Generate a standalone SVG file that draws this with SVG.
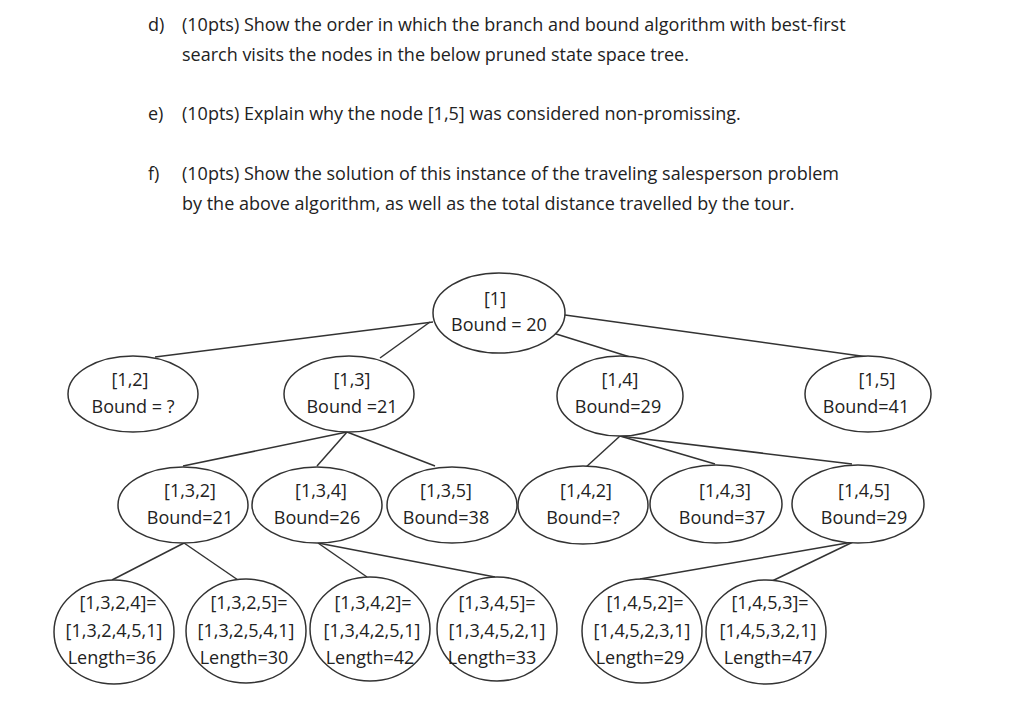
<svg xmlns="http://www.w3.org/2000/svg" width="1024" height="704" viewBox="0 0 1024 704">
<style>
text{font-family:"Open Sans","Liberation Sans",sans-serif;font-size:18px;fill:#222}
.n text{text-anchor:middle}
ellipse{fill:#fff;stroke:#333;stroke-width:1.5}
#edges line{stroke:#333;stroke-width:1.5}
</style>
<rect width="1024" height="704" fill="#fff"/>
<g id="questions">
<text x="148" y="31">d)</text><text x="182" y="31">(10pts) Show the order in which the branch and bound algorithm with best-first</text>
<text x="182" y="61">search visits the nodes in the below pruned state space tree.</text>
<text x="148" y="120">e)</text><text x="182" y="120">(10pts) Explain why the node [1,5] was considered non-promissing.</text>
<text x="148" y="180">f)</text><text x="182" y="180">(10pts) Show the solution of this instance of the traveling salesperson problem</text>
<text x="182" y="210">by the above algorithm, as well as the total distance travelled by the tour.</text>
</g>
<g id="edges">
<line x1="433" y1="322" x2="155" y2="357"/>
<line x1="430" y1="322" x2="380" y2="358"/>
<line x1="553" y1="333" x2="630" y2="357"/>
<line x1="565" y1="315" x2="868" y2="357"/>
<line x1="347" y1="432" x2="183" y2="466"/>
<line x1="347" y1="432" x2="317" y2="466"/>
<line x1="347" y1="432" x2="435" y2="466"/>
<line x1="620" y1="436" x2="585" y2="468"/>
<line x1="620" y1="436" x2="715" y2="464"/>
<line x1="620" y1="436" x2="852" y2="464"/>
<line x1="184" y1="543" x2="112" y2="580"/>
<line x1="184" y1="543" x2="238" y2="580"/>
<line x1="318" y1="543" x2="367" y2="577"/>
<line x1="318" y1="543" x2="495" y2="577"/>
<line x1="853" y1="542" x2="640" y2="579"/>
<line x1="853" y1="542" x2="770" y2="582"/>
</g>
<g id="n1" class="n"><ellipse cx="499" cy="313" rx="66" ry="40"/><text x="495" y="305">[1]</text><text x="499" y="331">Bound = 20</text></g>
<g id="n12" class="n"><ellipse cx="133" cy="394" rx="65" ry="38"/><text x="130" y="386">[1,2]</text><text x="133" y="413">Bound = ?</text></g>
<g id="n13" class="n"><ellipse cx="349" cy="394" rx="65" ry="38"/><text x="352" y="386">[1,3]</text><text x="352" y="413">Bound =21</text></g>
<g id="n14" class="n"><ellipse cx="620" cy="396" rx="63" ry="40"/><text x="620" y="386">[1,4]</text><text x="618" y="413">Bound=29</text></g>
<g id="n15" class="n"><ellipse cx="868" cy="394" rx="63" ry="38"/><text x="877" y="386">[1,5]</text><text x="866" y="413">Bound=41</text></g>
<g id="n132" class="n"><ellipse cx="183" cy="505" rx="65" ry="38"/><text x="190" y="497">[1,3,2]</text><text x="190" y="524">Bound=21</text></g>
<g id="n134" class="n"><ellipse cx="317" cy="505" rx="65" ry="38"/><text x="321" y="497">[1,3,4]</text><text x="317" y="524">Bound=26</text></g>
<g id="n135" class="n"><ellipse cx="452" cy="505" rx="65" ry="38"/><text x="446" y="497">[1,3,5]</text><text x="446" y="524">Bound=38</text></g>
<g id="n142" class="n"><ellipse cx="583" cy="505" rx="65" ry="39"/><text x="586" y="497">[1,4,2]</text><text x="583" y="524">Bound=?</text></g>
<g id="n143" class="n"><ellipse cx="716" cy="504" rx="66" ry="39"/><text x="725" y="497">[1,4,3]</text><text x="722" y="524">Bound=37</text></g>
<g id="n145" class="n"><ellipse cx="858" cy="504" rx="66" ry="39"/><text x="864" y="497">[1,4,5]</text><text x="864" y="524">Bound=29</text></g>
<g id="n1324" class="n"><ellipse cx="114" cy="632" rx="60" ry="52"/><text x="118" y="609">[1,3,2,4]=</text><text x="114" y="637">[1,3,2,4,5,1]</text><text x="112" y="664">Length=36</text></g>
<g id="n1325" class="n"><ellipse cx="246" cy="631" rx="60" ry="52"/><text x="249" y="609">[1,3,2,5]=</text><text x="246" y="637">[1,3,2,5,4,1]</text><text x="244" y="664">Length=30</text></g>
<g id="n1342" class="n"><ellipse cx="370" cy="629" rx="60" ry="52"/><text x="373" y="609">[1,3,4,2]=</text><text x="372" y="637">[1,3,4,2,5,1]</text><text x="370" y="664">Length=42</text></g>
<g id="n1345" class="n"><ellipse cx="497" cy="629" rx="60" ry="52"/><text x="497" y="609">[1,3,4,5]=</text><text x="497" y="637">[1,3,4,5,2,1]</text><text x="492" y="664">Length=33</text></g>
<g id="n1452" class="n"><ellipse cx="642" cy="631" rx="60" ry="52"/><text x="645" y="609">[1,4,5,2]=</text><text x="642" y="637">[1,4,5,2,3,1]</text><text x="640" y="664">Length=29</text></g>
<g id="n1453" class="n"><ellipse cx="766" cy="632" rx="60" ry="52"/><text x="770" y="609">[1,4,5,3]=</text><text x="768" y="637">[1,4,5,3,2,1]</text><text x="768" y="664">Length=47</text></g>
</svg>
